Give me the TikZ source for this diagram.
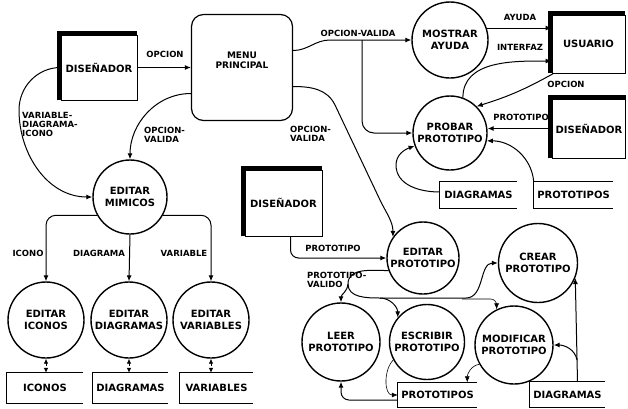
\documentclass[tikz,border=0pt]{standalone}
\usepackage{fontspec}
\setmainfont{DejaVu Sans}
\usetikzlibrary{arrows.meta}

\tikzstyle{process} = [circle, draw, line width=1.4pt, minimum size=76pt, inner sep=0pt, align=center, font=\bfseries\fontsize{10}{11.5}\selectfont]
\tikzstyle{menubox} = [rectangle, draw, line width=1.2pt, rounded corners=12pt, align=center, font=\bfseries\fontsize{9}{10.5}\selectfont]
\tikzstyle{entity} = [rectangle, draw, line width=0.8pt, font=\bfseries\fontsize{10}{11.5}\selectfont]
\tikzstyle{store} = [rectangle, font=\bfseries\fontsize{10}{11.5}\selectfont]
\tikzstyle{shade} = [draw, line width=4pt]
\tikzstyle{line} = [draw, line width=1pt]
\tikzstyle{arrow} = [draw, line width=1pt, -{Latex[length=6pt,width=5pt]}]
\tikzstyle{thinarrow} = [draw, line width=0.6pt, -{Latex[length=6pt,width=5pt]}]
\tikzstyle{biarrow} = [draw, line width=0.8pt, dashed, {Latex[length=5pt,width=4.5pt]}-{Latex[length=5pt,width=4.5pt]}]
\tikzstyle{flowtext} = [font=\bfseries\fontsize{8.5}{9}\selectfont, align=left, inner sep=1pt]

\begin{document}
\begin{tikzpicture}[x=1pt, y=-1pt]
    \useasboundingbox (0,0) rectangle (628,408);

    % entidades
    \node[entity, minimum width=76pt, minimum height=65pt] (dis1) at (99,67.5) {DISEÑADOR};
    \node[entity, minimum width=73pt, minimum height=58pt] (usuario) at (588.5,44) {USUARIO};
    \node[entity, minimum width=72pt, minimum height=59pt] (dis2) at (589,128.5) {DISEÑADOR};
    \node[entity, minimum width=77pt, minimum height=66pt] (dis3) at (283.5,203) {DISEÑADOR};
    \foreach \e in {dis1,usuario,dis2,dis3}
        \draw[shade] ([xshift=-2pt]\e.south west) -- ([xshift=-2pt,yshift=2pt]\e.north west) -- ([yshift=2pt]\e.north east);

    % menu
    \node[menubox, minimum width=101pt, minimum height=106pt] (menu) at (242,67.5) {MENU\\PRINCIPAL\\[4pt]\mbox{}};

    % procesos
    \node[process] (ayuda) at (450,40) {MOSTRAR\\AYUDA};
    \node[process, minimum size=74pt] (probar) at (450,133) {PROBAR\\PROTOTIPO};
    \node[process, minimum size=74pt] (mimicos) at (130,197) {EDITAR\\MIMICOS};
    \node[process] (iconos) at (46,320) {EDITAR\\ICONOS};
    \node[process] (diagramas) at (129,320) {EDITAR\\DIAGRAMAS};
    \node[process] (variables) at (211,320) {EDITAR\\VARIABLES};
    \node[process, minimum size=72pt] (editar) at (423,258) {EDITAR\\PROTOTIPO};
    \node[process, minimum size=79pt] (crear) at (538,263) {CREAR\\PROTOTIPO};
    \node[process, minimum size=78pt] (leer) at (341,342) {LEER\\PROTOTIPO};
    \node[process, minimum size=75pt] (escribir) at (427,342) {ESCRIBIR\\PROTOTIPO};
    \node[process, minimum size=78pt] (modificar) at (514,345) {MODIFICAR\\PROTOTIPO};

    % almacenes
    \node[store, minimum width=77pt, minimum height=26pt] (stDiag1) at (478.5,195) {DIAGRAMAS};
    \node[store, minimum width=77pt, minimum height=26pt] (stProt1) at (573.5,195) {PROTOTIPOS};
    \node[store, minimum width=76pt, minimum height=30pt] (stIconos) at (45,388) {ICONOS};
    \node[store, minimum width=73pt, minimum height=30pt] (stDiagramas) at (130.5,388) {DIAGRAMAS};
    \node[store, minimum width=73pt, minimum height=30pt] (stVariables) at (216.5,388) {VARIABLES};
    \node[store, minimum width=75pt, minimum height=25pt] (stProt2) at (437.5,395) {PROTOTIPOS};
    \node[store, minimum width=75pt, minimum height=25pt] (stDiag2) at (567.5,394.5) {DIAGRAMAS};
    \foreach \s in {stDiag1,stProt1,stIconos,stDiagramas,stVariables,stProt2,stDiag2}
        \draw[line] (\s.north east) -- (\s.north west) -- (\s.south west) -- (\s.south east);

    % flujos del menu
    \draw[arrow] (dis1.east) -- (menu.west);
    \draw[arrow] (dis1.west) to[out=180,in=90] (19,110) to[out=-90,in=180] (mimicos.west);
    \draw[arrow] ([yshift=-26pt]menu.west) to[out=180,in=90] (mimicos.north);
    \coordinate (split) at (362,40);
    \draw[arrow] ([yshift=17pt]menu.east) to[out=0,in=180] (330,40) -- (ayuda.west);
    \draw[arrow, rounded corners=12pt] (split) |- (probar.west);
    \draw[arrow] ([yshift=-19pt]menu.east) to[out=0,in=116] (335,105) -- (380,200) to[out=-64,in=90] (editar.145);

    % probar prototipo
    \draw[arrow] (ayuda.18) -- (ayuda.18 -| usuario.west);
    \draw[arrow] (probar.70) to[out=90,in=180] ([yshift=-17pt]usuario.west);
    \draw[arrow] ([xshift=2pt]usuario.south west) to[bend left=6] (probar.45);
    \draw[arrow] (dis2.west) -- (dis2.west -| probar.east);
    \draw[arrow] ([yshift=3pt]stDiag1.west) to[out=180,in=-90] (396,165) to[out=90,in=200] (probar.200);
    \draw[arrow] (stProt1.north west) to[out=95,in=0] (probar.-12);

    % editar mimicos
    \draw[arrow, rounded corners=10pt] (mimicos.209) -| (iconos.north);
    \draw[arrow] (mimicos.south) -- (diagramas.north);
    \draw[arrow, rounded corners=10pt] (mimicos.-29) -| (variables.north);
    \foreach \p/\s in {iconos/stIconos, diagramas/stDiagramas, variables/stVariables}
        \draw[biarrow] (\p.south) -- (\p.south |- \s.north);

    % editar prototipo
    \draw[arrow, rounded corners=8pt] ([xshift=7pt]dis3.south) |- (editar.west);
    \coordinate (j1) at (348,284);
    \coordinate (j2) at (380,298);
    \coordinate (j3) at (462,299);
    \draw[line] (editar.200) to[out=180,in=90] (j1);
    \draw[arrow] (j1) to[out=-95,in=90] (leer.north);
    \draw[arrow] (j1) to[out=-90,in=180] (j2) -- (466,298) to[out=0,in=180] (crear.west);
    \draw[arrow] (j2) to[out=0,in=90] (escribir.140);
    \draw[thinarrow, rounded corners=6pt] (j3) -| (modificar.116);
    \draw[thinarrow] (escribir.208) to[out=225,in=180] (stProt2.west);
    \draw[thinarrow] (modificar.209) to[out=190,in=90] ([xshift=-10pt]stProt2.north east);
    \draw[arrow, rounded corners=8pt] ([yshift=-5pt]stProt2.west) -| (leer.south);
    \coordinate (j4) at (577,360);
    \draw[arrow] ([xshift=10pt]stDiag2.north) -- (crear.-22);
    \draw[arrow] (j4) to[out=100,in=0] (modificar.east);

    % etiquetas
    \node[flowtext] (tOpcion1) at (165,54) {OPCION};
    \node[flowtext, anchor=north west] (tVarDiag) at (21,111) {VARIABLE-\\DIAGRAMA-\\ICONO};
    \node[flowtext, anchor=north west] (tOpVal1) at (143,126) {OPCION-\\VALIDA};
    \node[flowtext] (tOpVal2) at (358,33) {OPCION-VALIDA};
    \node[flowtext, anchor=north west] (tOpVal3) at (289,125) {OPCION-\\VALIDA};
    \node[flowtext] (tAyuda) at (520,17) {AYUDA};
    \node[flowtext] (tInterfaz) at (520,47) {INTERFAZ};
    \node[flowtext] (tOpcion2) at (566,84) {OPCION};
    \node[flowtext] (tProt1) at (521,117) {PROTOTIPO};
    \node[flowtext] (tIcono) at (28,253) {ICONO};
    \node[flowtext] (tDiagrama) at (99,253) {DIAGRAMA};
    \node[flowtext] (tVariable) at (184,253) {VARIABLE};
    \node[flowtext] (tProt2) at (333,248) {PROTOTIPO};
    \node[flowtext, anchor=north west] (tProtVal) at (306,271) {PROTOTIPO-\\VALIDO};
\end{tikzpicture}
\end{document}
